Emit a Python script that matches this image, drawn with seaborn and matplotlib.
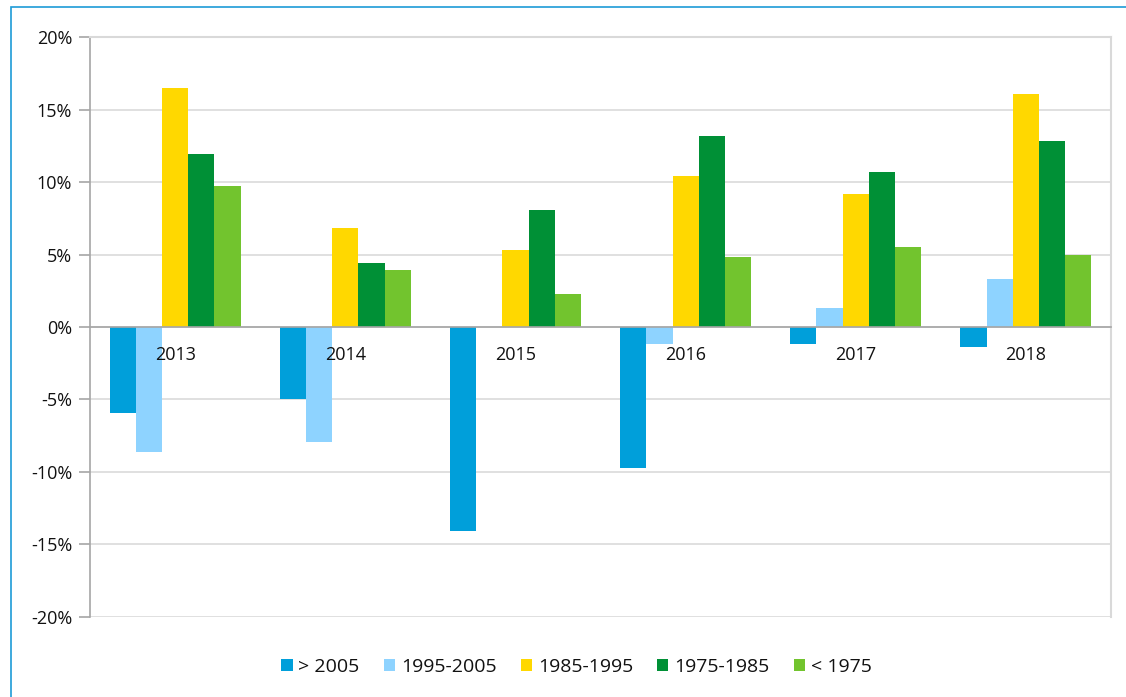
import pandas as pd
import seaborn as sns
import matplotlib.pyplot as plt
from matplotlib.patches import Patch, Rectangle
from matplotlib.ticker import FuncFormatter, MultipleLocator, FixedLocator

# data
years = ['2013', '2014', '2015', '2016', '2017', '2018']
groups = ['> 2005', '1995-2005', '1985-1995', '1975-1985', '< 1975']
gt_2005 = [-5.9, -5.0, -14.1, -9.7, -1.2, -1.4]
y1995_2005 = [-8.6, -7.9, 0.0, -1.2, 1.3, 3.3]
y1985_1995 = [16.5, 6.8, 5.3, 10.4, 9.2, 16.1]
y1975_1985 = [11.9, 4.4, 8.1, 13.2, 10.7, 12.8]
lt_1975 = [9.7, 3.9, 2.3, 4.8, 5.5, 5.0]
colors = ['#009FDA', '#8ED3FF', '#FFD800', '#009036', '#72C42E']

series = [gt_2005, y1995_2005, y1985_1995, y1975_1985, lt_1975]
rows = []
for g, vals in zip(groups, series):
    for yr, v in zip(years, vals):
        rows.append({'year': yr, 'group': g, 'value': v})
df = pd.DataFrame(rows)

sns.set_style('white')
plt.rcParams['font.family'] = ['Open Sans', 'DejaVu Sans']

fig = plt.figure(figsize=(11.26, 6.97), dpi=100)
ax = fig.add_axes([0.080, 0.1148, 0.9067, 0.8321])

sns.barplot(data=df, x='year', y='value', hue='group', hue_order=groups,
            palette=colors, width=0.77, saturation=1, ax=ax, legend=False,
            edgecolor='none')

ax.set_ylim(-20, 20)
ax.set_xlim(-0.5, len(years) - 0.5)
ax.yaxis.set_major_locator(MultipleLocator(5))
ax.yaxis.set_major_formatter(FuncFormatter(lambda v, p: f'{v:.0f}%'))
ax.grid(axis='y', color='#DADADA', lw=1.2)
ax.set_axisbelow(True)
# year labels are drawn over the bars
ax.xaxis.set_zorder(5)

# category axis sits on the zero line
ax.spines['bottom'].set_position(('data', 0))
ax.spines['bottom'].set_color('#A6A6A6')
ax.spines['bottom'].set_linewidth(1.2)
ax.spines['left'].set_color('#A6A6A6')
ax.spines['left'].set_linewidth(1.2)
for s in ['top', 'right']:
    ax.spines[s].set_color('#D9D9D9')
    ax.spines[s].set_linewidth(1.5)
ax.xaxis.set_minor_locator(FixedLocator([i + 0.5 for i in range(-1, len(years))]))
ax.tick_params(axis='x', which='major', length=0, pad=13.5, labelsize=13, labelcolor='#111111')
ax.tick_params(axis='x', which='minor', length=5, color='#A6A6A6', direction='out')
ax.tick_params(axis='y', length=8, color='#A6A6A6', width=1.2, pad=5,
               labelsize=13, labelcolor='#111111', left=True)
ax.set_xlabel('')
ax.set_ylabel('')

handles = [Patch(facecolor=c, edgecolor='none') for c in colors]
fig.legend(handles, groups, loc='center', bbox_to_anchor=(0.512, 0.043), ncol=5,
           frameon=False, fontsize=14, handlelength=0.57, handleheight=0.57,
           handletextpad=0.3, columnspacing=1.25, labelcolor='#111111')

# outer frame (blue line at top and left)
fig.patches.append(Rectangle((11 / 1126, -0.05), 1.2, 1 - 7 / 697 + 0.05,
                             transform=fig.transFigure, fill=False,
                             edgecolor='#1E9BD7', lw=1.2))

fig.savefig('out.png', dpi=100)
